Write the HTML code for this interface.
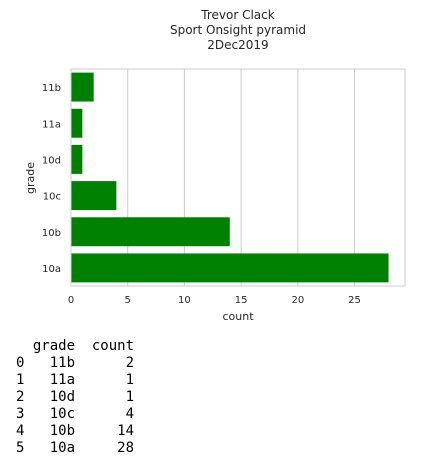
<!DOCTYPE html>
<html><head><meta charset="utf-8"><style>
body{margin:0;width:425px;height:465px;background:#fff;overflow:hidden;position:relative;font-family:"DejaVu Sans","Liberation Sans",sans-serif;}
pre{position:absolute;left:16px;top:338px;margin:0;font-family:"DejaVu Sans Mono","Liberation Mono",monospace;font-size:14px;line-height:17px;color:#000;}
</style></head><body>
<svg id="chart" width="425" height="325" style="position:absolute;left:0;top:0" font-family="DejaVu Sans, Liberation Sans, sans-serif"></svg>
<pre>  grade  count
0   11b      2
1   11a      1
2   10d      1
3   10c      4
4   10b     14
5   10a     28</pre>
<script>
const categories=["11b","11a","10d","10c","10b","10a"];
const counts=[2,1,1,4,14,28];
const xTicks=[0,5,10,15,20,25];
const titleLines=["Trevor Clack","Sport Onsight pyramid","2Dec2019"];
const svg=document.getElementById('chart');
const NS='http://www.w3.org/2000/svg';
const L=71,R=405,T=69,B=286,xMax=29.45;
const xs=v=>L+v/xMax*(R-L);
const band=(B-T)/categories.length;
function mk(t,a,txt){const e=document.createElementNS(NS,t);for(const k in a)e.setAttribute(k,a[k]);if(txt!==undefined)e.textContent=txt;svg.appendChild(e);return e;}
titleLines.forEach((s,i)=>{const e=mk('text',{x:238,y:19+i*15,'text-anchor':'middle','font-size':12,fill:'#262626'},s);

});
xTicks.forEach(v=>{const g=mk('line',{x1:xs(v),x2:xs(v),y1:T,y2:B,stroke:'#cccccc','stroke-width':1});


const t=mk('text',{x:xs(v),y:303,'text-anchor':'middle','font-size':10,fill:'#262626'},v);

});
categories.forEach((c,i)=>{const y=T+i*band+band*0.1;
const r=mk('rect',{x:L,y:y,width:xs(counts[i])-L,height:band*0.8,fill:'#008000'});


const t=mk('text',{x:61,y:T+i*band+band/2+4,'text-anchor':'end','font-size':10,fill:'#262626'},c);

});
const f=mk('rect',{x:L,y:T,width:R-L,height:B-T,fill:'none',stroke:'#cccccc','stroke-width':1});


const xl=mk('text',{x:238,y:320,'text-anchor':'middle','font-size':11,fill:'#262626'},'count');


const yl=mk('text',{x:34,y:178,'text-anchor':'middle','font-size':11,fill:'#262626',transform:'rotate(-90 34 178)'},'grade');


</script>
</body></html>
